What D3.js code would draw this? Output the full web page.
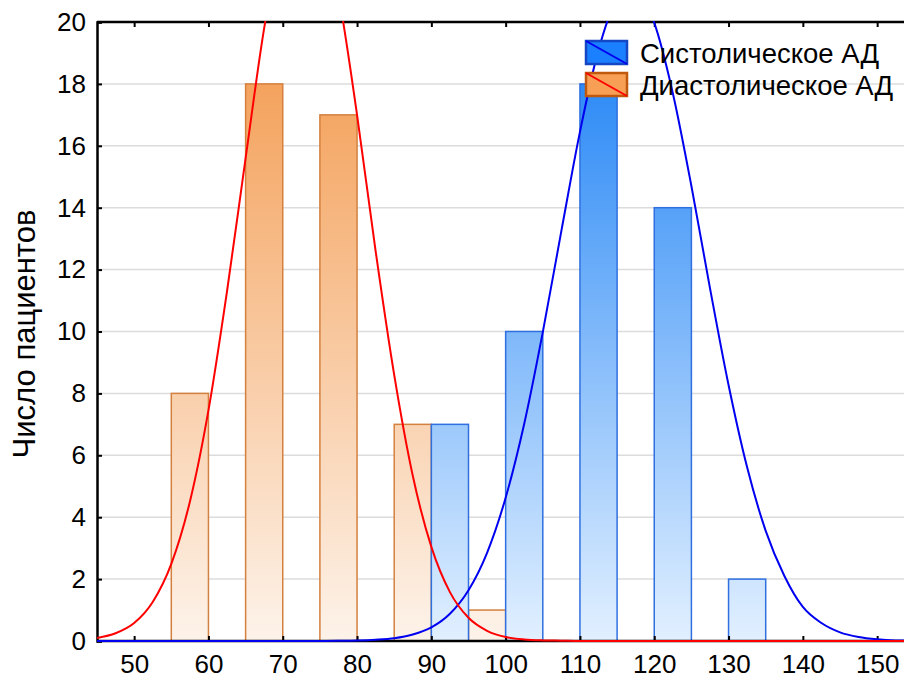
<!DOCTYPE html>
<html>
<head>
<meta charset="utf-8">
<script src="https://cdn.jsdelivr.net/npm/d3@7"></script>
<style>
  body { margin: 0; background: #fff; }
  svg { display: block; font-family: "Liberation Sans", Arial, sans-serif; }
</style>
</head>
<body>
<svg id="chart" width="904" height="680"></svg>
<script>
// bars: [from, to, count]
const diastolicBars = [[55, 60, 8], [65, 70, 18], [75, 80, 17], [85, 90, 7], [95, 100, 1]];
const systolicBars = [[90, 95, 7], [100, 105, 10], [110, 115, 18], [120, 125, 14], [130, 135, 2]];

// fitted normal curves, every 2.5 units
const curveX = [45, 47.5, 50, 52.5, 55, 57.5, 60, 62.5, 65, 67.5, 70, 72.5, 75, 77.5, 80, 82.5, 85, 87.5,
  90, 92.5, 95, 97.5, 100, 102.5, 105, 107.5, 110, 112.5, 115, 117.5, 120, 122.5, 125, 127.5, 130,
  132.5, 135, 137.5, 140, 142.5, 145, 147.5, 150, 152.5, 155];
const diastolicCurve = [0.1, 0.25, 0.58, 1.26, 2.49, 4.5, 7.45, 11.3, 15.6, 19.8, 22.9, 24.3, 23.5, 20.9, 17.0, 12.6, 8.6, 5.34,
  3.04, 1.58, 0.75, 0.33, 0.13, 0.05, 0.02, 0.01, 0, 0, 0, 0, 0, 0, 0, 0, 0,
  0, 0, 0, 0, 0, 0, 0, 0, 0, 0];
const systolicCurve = [0, 0, 0, 0, 0, 0, 0, 0, 0, 0, 0, 0, 0, 0.005, 0.015, 0.04, 0.09, 0.21,
  0.44, 0.88, 1.64, 2.85, 4.63, 7.02, 9.98, 13.25, 16.45, 19.1, 20.7, 21.05, 19.97, 17.7, 14.7, 11.4, 8.27,
  5.61, 3.56, 2.11, 1.1, 0.58, 0.28, 0.13, 0.056, 0.02, 0.01];

const xTicks = [50, 60, 70, 80, 90, 100, 110, 120, 130, 140, 150];
const yTicks = [0, 2, 4, 6, 8, 10, 12, 14, 16, 18, 20];
const legendLabels = ["Систолическое АД", "Диастолическое АД"];
const yTitle = "Число пациентов";

const svg = d3.select("#chart");
const plotLeft = 97, plotTop = 22, plotBottom = 641, plotRight = 904;

const x = d3.scaleLinear().domain([45, 155]).range([plotLeft, plotLeft + 110 * 7.43]);
const y = d3.scaleLinear().domain([0, 20]).range([plotBottom, plotTop]);

const defs = svg.append("defs");
function grad(id, low, high) {
    const g = defs.append("linearGradient")
        .attr("id", id)
        .attr("gradientUnits", "userSpaceOnUse")
        .attr("x1", 0).attr("x2", 0)
        .attr("y1", y(0)).attr("y2", y(20));
    g.append("stop").attr("offset", 0).attr("stop-color", low);
    g.append("stop").attr("offset", 1).attr("stop-color", high);
}
grad("gOrange", "#fdf3ea", "#f39a4e");
grad("gBlue", "#e2f0ff", "#1a80f5");

defs.append("clipPath").attr("id", "plotClip")
    .append("rect").attr("x", plotLeft).attr("y", plotTop - 1)
    .attr("width", plotRight - plotLeft).attr("height", plotBottom - plotTop + 2);

// grid lines
svg.append("g")
    .selectAll("line")
    .data(yTicks.slice(1, -1))
    .join("line")
    .attr("x1", plotLeft).attr("x2", plotRight)
    .attr("y1", d => y(d)).attr("y2", d => y(d))
    .attr("stroke", "#dcdcdc")
    .attr("stroke-width", 1.5);

// bars
function drawBars(data, fill, stroke) {
    svg.append("g")
        .selectAll("rect")
        .data(data)
        .join("rect")
        .attr("x", d => x(d[0]))
        .attr("width", d => x(d[1]) - x(d[0]))
        .attr("y", d => y(d[2]))
        .attr("height", d => y(0) - y(d[2]))
        .attr("fill", fill)
        .attr("stroke", stroke)
        .attr("stroke-width", 1.5);
}
drawBars(diastolicBars, "url(#gOrange)", "#d4803e");
drawBars(systolicBars, "url(#gBlue)", "#2f6fe0");

// axes
const xAxis = svg.append("g")
    .attr("transform", `translate(0,${plotBottom})`)
    .call(d3.axisBottom(x).tickValues(xTicks).tickSize(-5).tickPadding(12));
const xTop = svg.append("g")
    .attr("transform", `translate(0,${plotTop})`)
    .call(d3.axisTop(x).tickValues(xTicks).tickSize(-5).tickFormat(""));
const yAxis = svg.append("g")
    .attr("transform", `translate(${plotLeft},0)`)
    .call(d3.axisLeft(y).tickValues(yTicks).tickSize(-5).tickPadding(12));

[xAxis, xTop, yAxis].forEach(a => {
    a.select(".domain").attr("stroke", "#000").attr("stroke-width", 2.5);
    a.selectAll(".tick line").attr("stroke", "#000").attr("stroke-width", 2);
    a.selectAll("text").attr("fill", "#000").style("font-size", "26px");
});
xAxis.select(".domain").attr("d", `M${plotLeft},0H${plotRight}`);
xTop.select(".domain").attr("d", `M${plotLeft},0H${plotRight}`);
xAxis.selectAll("text").attr("dy", "0.71em").attr("y", 14);
yAxis.selectAll("text").attr("x", -11);

// curves, drawn over the axis line like in the original
const line = d3.line()
    .x((d, i) => x(curveX[i]))
    .y(d => y(d))
    .curve(d3.curveMonotoneX);

const curves = svg.append("g").attr("clip-path", "url(#plotClip)");
curves.append("path")
    .attr("d", line(systolicCurve))
    .attr("fill", "none")
    .attr("stroke", "#0000f0")
    .attr("stroke-width", 2);
curves.append("path")
    .attr("d", line(diastolicCurve))
    .attr("fill", "none")
    .attr("stroke", "#ff0000")
    .attr("stroke-width", 2);

svg.append("text")
    .attr("transform", `translate(35,334) rotate(-90)`)
    .attr("text-anchor", "middle")
    .style("font-size", "31px")
    .attr("fill", "#000")
    .text(yTitle);

// legend
const legend = svg.append("g").attr("transform", "translate(586,41)");
const legendStyles = [
    { fill: "#1a80ff", stroke: "#1546c4", diag: "#0000f0" },
    { fill: "#f7a055", stroke: "#c0580e", diag: "#ff0000" }
];
legendStyles.forEach((s, i) => {
    const g = legend.append("g").attr("transform", `translate(0,${i * 32})`);
    g.append("rect")
        .attr("width", 41).attr("height", 23)
        .attr("fill", s.fill)
        .attr("stroke", s.stroke)
        .attr("stroke-width", 2.5);
    g.append("line")
        .attr("x1", 0).attr("y1", 0).attr("x2", 41).attr("y2", 23)
        .attr("stroke", s.diag).attr("stroke-width", 2);
    g.append("text")
        .attr("x", 54).attr("y", 22)
        .style("font-size", "27.5px")
        .attr("fill", "#000")
        .text(legendLabels[i]);
});
</script>
</body>
</html>
